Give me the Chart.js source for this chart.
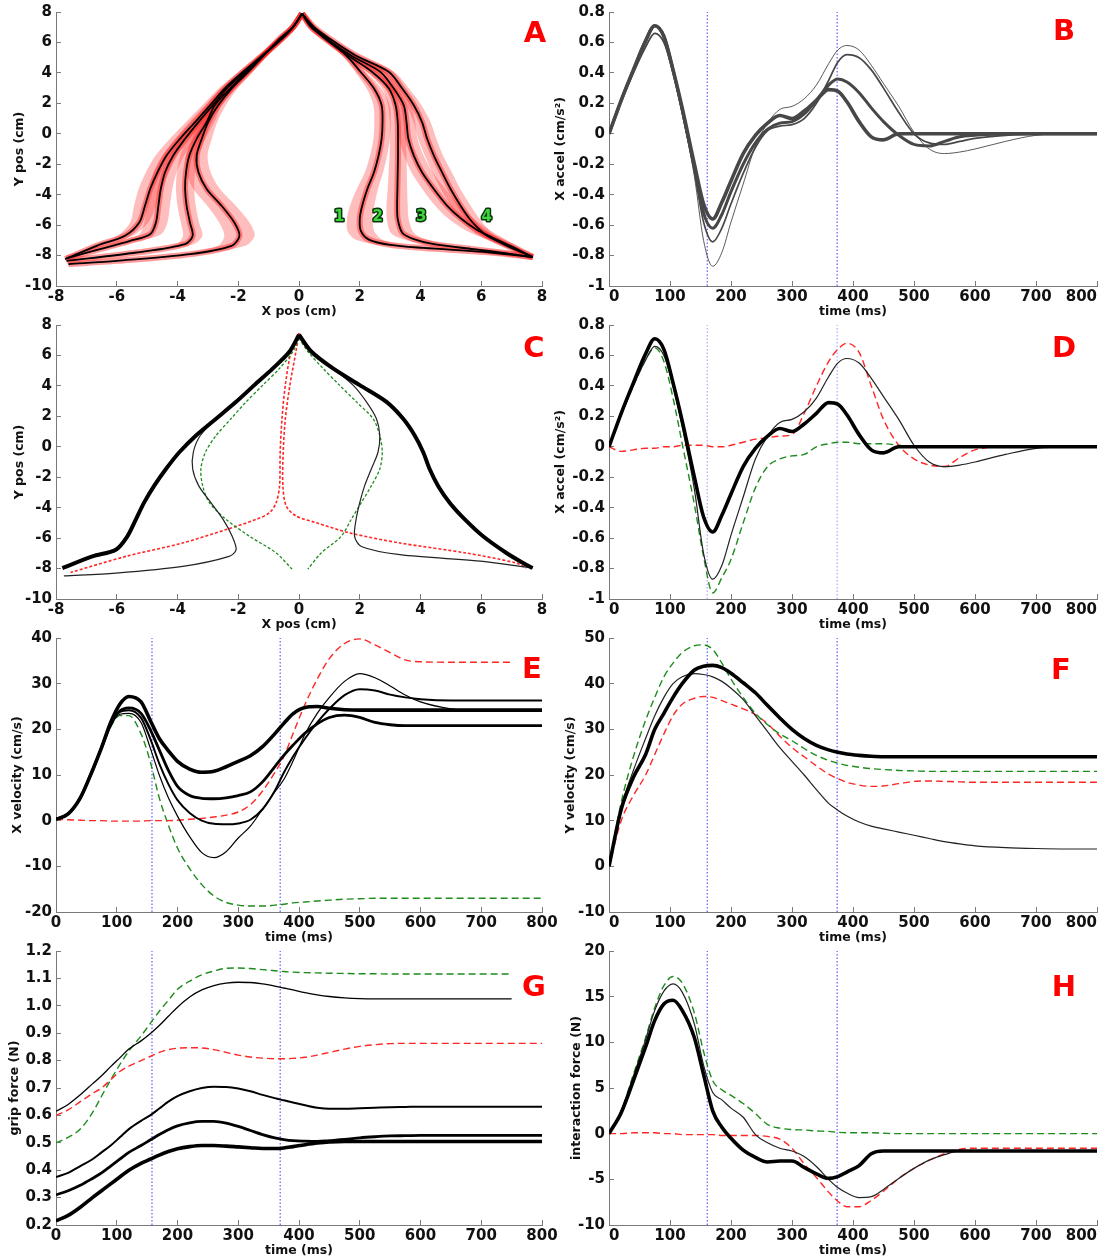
<!DOCTYPE html>
<html>
<head>
<meta charset="utf-8">
<script src="https://cdn.jsdelivr.net/npm/chart.js@4.4.1/dist/chart.umd.min.js"></script>
<style>
  html, body { margin: 0; padding: 0; background: #fff; overflow: hidden; }
  #page { position: relative; width: 1108px; height: 1257px; }
  #page canvas { position: absolute; }
  .tag {
    position: absolute;
    font: bold 29px "DejaVu Sans", sans-serif;
    color: #ff0000;
    line-height: 1;
    transform: translate(-50%, -50%);
  }
</style>
</head>
<body>
<div id="page">
  <canvas id="panelA"></canvas>
  <canvas id="panelB"></canvas>
  <canvas id="panelC"></canvas>
  <canvas id="panelD"></canvas>
  <canvas id="panelE"></canvas>
  <canvas id="panelF"></canvas>
  <canvas id="panelG"></canvas>
  <canvas id="panelH"></canvas>
  <div class="tag" style="left:535px;top:32px">A</div>
  <div class="tag" style="left:1064px;top:30px">B</div>
  <div class="tag" style="left:534px;top:347px">C</div>
  <div class="tag" style="left:1064px;top:347px">D</div>
  <div class="tag" style="left:532px;top:668px">E</div>
  <div class="tag" style="left:1061px;top:669px">F</div>
  <div class="tag" style="left:534px;top:986px">G</div>
  <div class="tag" style="left:1064px;top:986px">H</div>
</div>
<script>
// ---- data -------------------------------------------------------------

// shared time base (ms) for the time-course panels
const TIME_MS = [0, 20, 40, 60, 75, 90, 105, 120, 140, 155, 170, 185, 200, 220, 240, 260, 280, 300,
  320, 340, 360, 375, 390, 410, 430, 450, 475, 500, 525, 550, 575, 600, 650, 700, 750, 800];

// dotted event markers (ms)
const MARKERS_LEFT_MS = [158, 369];
const MARKERS_RIGHT_MS = [161, 374];

// panel A: hand paths [x, y] (cm) and horizontal spread (cm)
const pathA_right1 = [[0.1,7.9],[0.4,7.0],[0.9,6.26],[1.55,5.16],[2.03,4.06],[2.47,2.97],[2.72,1.87],[2.75,0.77],[2.72,-0.33],[2.62,-1.43],
  [2.47,-2.53],[2.25,-3.63],[2.08,-4.73],[2.0,-5.6],[2.04,-6.4],[2.3,-6.95],[3.0,-7.3],[4.1,-7.5],[6.3,-7.8],[7.7,-8.1]];
const spreadA_right1 = [0,0.03,0.08,0.13,0.18,0.24,0.27,0.27,0.27,0.28,0.3,0.35,0.4,0.42,0.44,0.44,0.4,0.3,0.15,0];
const pathA_right2 = [[0.1,7.9],[0.42,7.0],[0.85,6.26],[1.6,5.16],[2.41,4.06],[2.96,2.97],[3.18,1.87],[3.25,0.77],[3.26,-0.33],[3.26,-1.43],
  [3.25,-2.53],[3.24,-3.63],[3.23,-4.73],[3.25,-5.6],[3.4,-6.5],[3.78,-6.92],[4.44,-7.25],[5.75,-7.58],[6.85,-7.85],[7.7,-8.1]];
const spreadA_right2 = [0,0.03,0.08,0.13,0.18,0.22,0.25,0.26,0.27,0.28,0.3,0.32,0.35,0.36,0.38,0.38,0.35,0.25,0.12,0];
const pathA_right3 = [[0.1,7.9],[0.45,7.0],[0.9,6.26],[1.7,5.16],[2.68,4.06],[3.12,2.97],[3.45,1.87],[3.54,0.77],[3.6,-0.33],[3.78,-1.43],
  [4.05,-2.53],[4.44,-3.63],[4.88,-4.73],[5.35,-5.6],[5.85,-6.3],[6.25,-6.7],[6.96,-7.36],[7.7,-8.1]];
const spreadA_right3 = [0,0.03,0.08,0.13,0.18,0.22,0.25,0.28,0.3,0.32,0.35,0.38,0.4,0.42,0.4,0.35,0.2,0];
const pathA_right4 = [[0.1,7.9],[0.5,7.0],[1.0,6.26],[1.85,5.16],[2.96,4.06],[3.4,2.97],[3.78,1.87],[4.05,0.77],[4.22,-0.33],[4.44,-1.43],
  [4.71,-2.53],[4.99,-3.63],[5.32,-4.73],[5.62,-5.6],[5.95,-6.3],[6.19,-6.7],[6.85,-7.36],[7.7,-8.1]];
const spreadA_right4 = [0,0.03,0.08,0.13,0.18,0.22,0.25,0.28,0.3,0.3,0.32,0.32,0.33,0.33,0.3,0.28,0.2,0];

const pathA_left1 = [[0.1,7.9],[-0.2,7.0],[-0.63,6.26],[-1.67,4.06],[-2.22,2.97],[-2.66,1.87],[-2.99,0.77],[-3.2,-0.33],[-3.37,-1.43],[-3.31,-2.53],
  [-3.04,-3.63],[-2.55,-4.73],[-2.13,-5.83],[-1.96,-6.7],[-2.22,-7.36],[-3.59,-7.91],[-6.0,-8.35],[-7.59,-8.57]];
const spreadA_left1 = [0,0.03,0.08,0.15,0.2,0.25,0.3,0.33,0.36,0.4,0.44,0.47,0.5,0.5,0.45,0.3,0.1,0];
const pathA_left2 = [[0.1,7.9],[-0.2,7.0],[-0.59,6.26],[-1.72,4.06],[-2.27,2.97],[-2.77,1.87],[-3.04,0.77],[-3.37,-0.33],[-3.61,-1.43],[-3.72,-2.53],
  [-3.75,-3.63],[-3.7,-4.73],[-3.59,-5.83],[-3.5,-6.7],[-3.75,-7.25],[-5.34,-7.8],[-7.65,-8.35]];
const spreadA_left2 = [0,0.03,0.08,0.15,0.2,0.23,0.26,0.28,0.3,0.3,0.3,0.3,0.3,0.32,0.28,0.12,0];
const pathA_left3 = [[0.1,7.9],[-0.2,7.0],[-0.57,6.26],[-1.78,4.06],[-2.38,2.97],[-2.84,1.87],[-3.31,0.77],[-3.75,-0.33],[-4.14,-1.43],[-4.41,-2.53],
  [-4.55,-3.63],[-4.63,-4.73],[-4.71,-5.83],[-4.9,-6.6],[-5.56,-7.03],[-6.55,-7.58],[-7.65,-8.18]];
const spreadA_left3 = [0,0.03,0.08,0.15,0.2,0.25,0.3,0.33,0.36,0.38,0.38,0.38,0.38,0.36,0.3,0.15,0];
const pathA_left4 = [[0.1,7.9],[-0.2,7.0],[-0.55,6.26],[-1.85,4.06],[-2.45,2.97],[-2.93,1.87],[-3.42,0.77],[-3.92,-0.33],[-4.36,-1.43],[-4.66,-2.53],
  [-4.9,-3.63],[-5.07,-4.73],[-5.26,-5.83],[-5.73,-6.7],[-6.66,-7.36],[-7.7,-8.24]];
const spreadA_left4 = [0,0.03,0.08,0.15,0.2,0.25,0.3,0.33,0.36,0.38,0.38,0.36,0.3,0.25,0.15,0];

const trialNumbers = ['1', '2', '3', '4'];
const trialNumberX = [1.32, 2.59, 4.02, 6.18];
const trialNumberY = -5.5;

// panel C: mean paths [x, y] (cm)
const pathC_thickLeft = [[0,7.36],[-0.31,6.26],[-0.86,5.15],[-1.47,4.05],[-2.07,2.95],[-2.73,1.84],[-3.39,0.74],[-3.94,-0.36],
  [-4.38,-1.46],[-4.77,-2.57],[-5.1,-3.67],[-5.37,-4.77],[-5.65,-5.88],[-6.03,-6.76],[-6.8,-7.2],[-7.79,-7.97]];
const pathC_thickRight = [[0,7.36],[0.4,6.26],[1.12,5.15],[2.0,4.05],[2.88,2.95],[3.43,1.84],[3.81,0.74],[4.09,-0.36],
  [4.3,-1.46],[4.58,-2.57],[4.96,-3.67],[5.46,-4.77],[6.06,-5.88],[6.83,-6.98],[7.38,-7.64],[7.69,-7.97]];
const pathC_thinLeft = [[0,7.36],[-0.31,6.26],[-0.86,5.15],[-1.47,4.05],[-2.07,2.95],[-2.73,1.84],[-3.25,0.74],[-3.48,-0.36],
  [-3.5,-1.46],[-3.3,-2.57],[-2.9,-3.67],[-2.5,-4.77],[-2.2,-5.88],[-2.07,-6.76],[-2.3,-7.2],[-3.83,-7.86],[-6.03,-8.3],[-7.74,-8.48]];
const pathC_thinRight = [[0,7.36],[0.46,6.26],[1.12,5.15],[1.78,4.05],[2.22,2.95],[2.55,1.84],[2.66,0.74],[2.6,-0.36],
  [2.38,-1.46],[2.16,-2.57],[2.0,-3.67],[1.88,-4.77],[1.83,-5.88],[2.05,-6.55],[3.32,-7.09],[6.06,-7.53],[7.69,-7.97]];
const pathC_greenLeft = [[0,7.14],[-0.2,6.26],[-0.64,5.15],[-1.19,4.05],[-1.74,2.95],[-2.24,1.84],[-2.73,0.74],[-3.08,-0.36],
  [-3.23,-1.46],[-3.17,-2.57],[-2.95,-3.67],[-2.4,-4.77],[-1.63,-5.88],[-0.75,-6.98],[-0.23,-8.04]];
const pathC_greenRight = [[0,7.14],[0.29,6.26],[0.79,5.15],[1.33,4.05],[1.89,2.95],[2.44,1.84],[2.66,0.74],[2.74,-0.36],
  [2.66,-1.46],[2.38,-2.57],[2.05,-3.67],[1.72,-4.77],[1.39,-5.88],[0.73,-6.98],[0.29,-8.04]];
const pathC_redLeft = [[0,7.47],[-0.26,6.26],[-0.45,4.05],[-0.56,1.84],[-0.62,-0.36],[-0.64,-2.57],[-0.75,-3.67],[-0.97,-4.33],
  [-1.41,-4.77],[-2.4,-5.44],[-3.83,-6.32],[-5.7,-7.2],[-7.52,-8.26]];
const pathC_redRight = [[0,7.47],[-0.1,6.26],[-0.3,4.05],[-0.45,1.84],[-0.52,-0.36],[-0.53,-2.57],[-0.42,-3.9],[-0.09,-4.55],
  [0.57,-4.99],[1.67,-5.66],[3.32,-6.32],[5.51,-6.98],[7.16,-7.64],[7.49,-7.97]];

// panels B / D: X accel (cm/s^2)
const accelB_1 = [0,0.22,0.42,0.61,0.71,0.64,0.42,0.17,-0.2,-0.46,-0.56,-0.45,-0.31,-0.13,-0.01,0.07,0.12,0.1,
  0.15,0.22,0.29,0.28,0.21,0.08,-0.02,-0.04,0,0,0,0,0,0,0,0,0,0];
const accelB_2 = [0,0.22,0.42,0.61,0.71,0.64,0.42,0.16,-0.22,-0.52,-0.62,-0.53,-0.38,-0.2,-0.06,0.03,0.07,0.08,
  0.13,0.22,0.32,0.36,0.34,0.27,0.17,0.08,-0.01,-0.07,-0.08,-0.05,-0.02,-0.01,0,0,0,0];
const accelB_3 = [0,0.21,0.4,0.57,0.66,0.6,0.4,0.14,-0.25,-0.58,-0.71,-0.62,-0.46,-0.26,-0.09,0.02,0.05,0.06,
  0.1,0.2,0.35,0.47,0.52,0.5,0.42,0.3,0.14,0,-0.06,-0.07,-0.05,-0.03,-0.01,0,0,0];
const accelB_4 = [0,0.21,0.4,0.57,0.66,0.6,0.4,0.13,-0.28,-0.7,-0.87,-0.78,-0.58,-0.33,-0.08,0.07,0.16,0.18,
  0.23,0.32,0.46,0.55,0.58,0.55,0.45,0.33,0.18,0.01,-0.1,-0.13,-0.12,-0.1,-0.05,-0.01,0,0];
const accelD_green = [0,0.21,0.4,0.57,0.65,0.56,0.32,0.02,-0.38,-0.72,-0.96,-0.86,-0.74,-0.5,-0.27,-0.13,-0.08,-0.06,
  -0.05,0,0.02,0.03,0.03,0.02,0.02,0.02,0.01,0,0,0,0,0,0,0,0,0];
const accelD_red = [0,-0.03,-0.02,-0.01,-0.01,0,0,0.01,0.01,0.01,0,0,0.01,0.03,0.05,0.06,0.07,0.08,
  0.22,0.4,0.56,0.64,0.68,0.62,0.4,0.18,0.01,-0.08,-0.12,-0.13,-0.07,-0.02,0,0,0,0];

// panel E: X velocity (cm/s)
const velX_1 = [0.3,1.5,5,11,16,21.5,25.5,27.2,26,22,18,15.3,13,11.3,10.6,10.8,11.8,13,
  14.2,16.2,19,21.3,23.4,24.8,25,24.6,24.3,24.2,24.2,24.2,24.2,24.2,24.2,24.2,24.2,24.2];
const velX_2 = [0.3,1.5,5,11,16,21,24,24.7,23.5,20,15.5,11,7.5,5.5,4.9,4.8,5,5.5,
  6.3,8.5,11.8,14.3,16.5,19.2,21.2,22.6,23.1,22.6,21.5,21,20.8,20.8,20.8,20.8,20.8,20.8];
const velX_3 = [0.3,1.5,5,11,16,21,23.8,24.2,22.5,18,12.5,8,4.5,1.7,0,-0.7,-0.8,-0.6,
  0.2,2.5,6.5,10.5,14,18,21.5,24.5,27.5,28.8,28.5,27.6,27,26.6,26.3,26.3,26.3,26.3];
const velX_4 = [0.3,1.5,5,11,16,20.8,23.3,23.5,21.5,16,10,5,1,-3.5,-7,-8.1,-6.8,-3.8,
  -1.2,2.5,6.3,9,13,19,23.5,27,30.5,32.2,31.3,29.5,27.5,26,24.5,24.1,24.1,24.1];
const velX_green = [0.3,1.5,5,11,16,20.5,23,23,19,13,5,-1,-6,-10.5,-14,-16.5,-17.9,-18.5,
  -18.7,-18.7,-18.5,-18.3,-18,-17.8,-17.6,-17.4,-17.2,-17.1,-17,-17,-17,-17,-17,-17,-17,-17];
const velX_red = [0.3,0.2,0.1,0,0,-0.1,-0.1,-0.1,-0.1,0,0,0,0.1,0.3,0.5,0.8,1.2,1.9,
  3.5,6.5,10.5,14,19,25.5,31,35.5,38.8,39.8,38.5,36.8,35.2,34.8,34.7,34.7,34.7,null];

// panel F: Y velocity (cm/s)
const velY_thick = [0,12.5,19.5,24.5,30,33.5,37,40,43,43.8,44,43.5,42.3,40.2,38,35.2,32.5,30,
  28,26.5,25.5,25,24.6,24.3,24.1,24,24,24,24,24,24,24,24,24,24,24];
const velY_thin = [0,13,21,28,33,37,40,41.5,42.2,42,41.5,40.5,39,36.5,33,29.5,26,23,
  20,16.8,13.8,12.3,11,9.7,8.8,8.2,7.5,6.8,6.1,5.4,4.9,4.5,4.1,3.9,3.8,3.8];
const velY_green = [0,14,24,32,37,41.5,44.5,46.8,48.3,48.5,47.5,44.5,41,37,33.5,31,29,27.5,
  25.8,24.3,23.2,22.6,22.1,21.7,21.4,21.2,21,20.9,20.8,20.8,20.8,20.8,20.8,20.8,20.8,20.8];
const velY_red = [0,10,15.5,20,24.5,29,33,35.5,36.8,37.2,37,36.3,35.5,34.5,33.2,31.2,28.5,26,
  24,22,20.2,19.2,18.4,17.8,17.5,17.6,18.1,18.6,18.7,18.6,18.5,18.4,18.4,18.4,18.4,18.4];

// panel G: grip force (N)
const grip_green = [0.5,0.52,0.55,0.61,0.67,0.73,0.785,0.835,0.89,0.935,0.98,1.02,1.06,1.09,1.113,1.127,1.137,1.138,
  1.136,1.132,1.128,1.125,1.123,1.121,1.12,1.119,1.118,1.117,1.117,1.116,1.116,1.116,1.116,1.116,1.116,null];
const grip_thin = [0.615,0.64,0.675,0.715,0.745,0.778,0.81,0.842,0.872,0.898,0.928,0.962,0.995,1.032,1.058,1.074,1.083,1.086,
  1.085,1.08,1.072,1.065,1.058,1.048,1.04,1.034,1.029,1.026,1.025,1.025,1.025,1.025,1.025,1.025,1.025,null];
const grip_red = [0.6,0.62,0.65,0.68,0.7,0.73,0.76,0.78,0.8,0.815,0.83,0.84,0.845,0.847,0.846,0.84,0.83,0.82,
  0.813,0.809,0.807,0.807,0.808,0.812,0.82,0.83,0.842,0.852,0.858,0.862,0.863,0.863,0.863,0.863,0.863,0.863];
const grip_4 = [0.375,0.39,0.415,0.44,0.465,0.49,0.52,0.55,0.58,0.6,0.625,0.65,0.67,0.688,0.7,0.705,0.704,0.698,
  0.688,0.675,0.663,0.655,0.647,0.637,0.628,0.624,0.624,0.626,0.628,0.63,0.631,0.632,0.632,0.632,0.632,0.632];
const grip_5 = [0.31,0.325,0.345,0.37,0.39,0.415,0.44,0.465,0.49,0.51,0.53,0.548,0.562,0.573,0.578,0.578,0.572,0.56,
  0.545,0.53,0.518,0.512,0.508,0.506,0.505,0.508,0.512,0.518,0.522,0.525,0.526,0.527,0.527,0.527,0.527,0.527];
const grip_6 = [0.215,0.235,0.265,0.3,0.325,0.35,0.375,0.4,0.425,0.44,0.455,0.468,0.478,0.486,0.49,0.49,0.488,0.485,
  0.482,0.479,0.479,0.481,0.486,0.493,0.499,0.503,0.505,0.505,0.505,0.505,0.505,0.505,0.505,0.505,0.505,0.505];

// panel H: interaction force (N)
const force_green = [0,2.5,6.5,10.5,13.8,16.2,17.2,16.5,13.2,9,5.8,4.8,4.2,3.3,2.2,1,0.6,0.45,
  0.4,0.3,0.25,0.15,0.1,0.1,0.1,0.05,0,0,0,0,0,0,0,0,0,0];
const force_thin = [0,2.5,6.3,10.3,13.5,15.6,16.4,15.5,12,7.5,4.5,3.7,2.8,1.8,-0.1,-1,-1.6,-1.9,
  -2.5,-3.6,-5,-5.9,-6.5,-7,-6.9,-6.1,-4.9,-3.8,-2.9,-2.3,-1.9,-1.9,-1.9,-1.9,-1.9,-1.9];
const force_thick = [0,2.3,5.8,9.5,12.4,14.2,14.6,13.5,10.5,6.5,2.5,0.7,-0.5,-1.8,-2.6,-3.1,-3,-3,
  -3.7,-4.4,-4.9,-4.7,-4.2,-3.5,-2.2,-1.9,-1.9,-1.9,-1.9,-1.9,-1.9,-1.9,-1.9,-1.9,-1.9,-1.9];
const force_red = [0,0,0.1,0.1,0.1,0,0,-0.1,-0.1,-0.1,-0.1,-0.2,-0.2,-0.2,-0.2,-0.3,-0.6,-1.6,
  -3.3,-4.8,-6.4,-7.4,-8,-8,-7.3,-6.3,-4.9,-3.8,-2.9,-2.2,-1.7,-1.6,-1.6,-1.6,-1.6,-1.6];

// ---- layout / style ---------------------------------------------------

const COLUMNS = {
  left:  { left: 0,   width: 562, axisWidth: 56, padRight: 20 },
  right: { left: 550, width: 558, axisWidth: 59, padRight: 11 }
};
const ROW_PLOT_TOPS = [12, 325, 638, 951];
const PLOT_HEIGHT = 274;
const PAD_TOP = 10;
const X_AXIS_HEIGHT = 33;

const TICK_FONT = { family: "'DejaVu Sans', sans-serif", size: 15, weight: 'bold' };
const TITLE_FONT = { family: "'DejaVu Sans', sans-serif", size: 12.5, weight: 'bold' };
const AXIS_GRAY = '#7a7a7a';

const INK = '#000000';
const GRAY = '#474747';
const GREEN = '#1d8c1d';
const RED = '#ff2626';
const BLUE = '#3b3bff';
const DASH = [7, 4];
const SHORT_DASH = [3, 2];

Chart.defaults.font.family = "'DejaVu Sans', sans-serif";

// ---- helpers ----------------------------------------------------------

function timeCurve(values, color, width, dash) {
  return {
    data: values.map((v, i) => ({ x: TIME_MS[i], y: v })),
    borderColor: color,
    borderWidth: width,
    borderDash: dash || [],
    pointRadius: 0,
    fill: false,
    cubicInterpolationMode: 'monotone'
  };
}

function pathCurve(pairs, color, width, dash) {
  return {
    data: pairs.map(([x, y]) => ({ x, y })),
    borderColor: color,
    borderWidth: width,
    borderDash: dash || [],
    pointRadius: 0,
    fill: false,
    tension: 0.3
  };
}

// closed outline: path shifted left, then back along the path shifted right
function spreadBand(pairs, halfWidths) {
  const left = pairs.map(([x, y], i) => ({ x: x - halfWidths[i], y }));
  const right = pairs.map(([x, y], i) => ({ x: x + halfWidths[i], y })).reverse();
  return {
    data: left.concat(right),
    borderColor: 'rgba(0,0,0,0)',
    borderWidth: 0,
    backgroundColor: 'rgba(255,40,40,0.3)',
    pointRadius: 0,
    fill: 'shape',
    tension: 0.3
  };
}

function markerLines(times, yMin, yMax, color) {
  return times.map(t => ({
    data: [{ x: t, y: yMin }, { x: t, y: yMax }],
    borderColor: color || BLUE,
    borderWidth: 1,
    borderDash: [1.5, 2],
    pointRadius: 0,
    fill: false,
    tension: 0
  }));
}

// green trial numbers written at data positions
const dataNotesPlugin = {
  id: 'dataNotes',
  afterDatasetsDraw(chart, args, opts) {
    const notes = opts.notes || [];
    if (!notes.length) return;
    const { ctx, scales } = chart;
    ctx.save();
    ctx.font = "bold 15px 'DejaVu Sans', sans-serif";
    ctx.textAlign = 'center';
    ctx.textBaseline = 'middle';
    ctx.lineJoin = 'round';
    ctx.lineWidth = 3;
    ctx.strokeStyle = '#0d300d';
    ctx.fillStyle = '#3ad63a';
    notes.forEach(n => {
      const px = scales.x.getPixelForValue(n.x);
      const py = scales.y.getPixelForValue(n.y);
      ctx.strokeText(n.text, px, py);
      ctx.fillText(n.text, px, py);
    });
    ctx.restore();
  }
};

function buildPanel(p) {
  const col = COLUMNS[p.col];
  const canvas = document.getElementById(p.id);
  canvas.width = col.width;
  canvas.height = PAD_TOP + PLOT_HEIGHT + X_AXIS_HEIGHT;
  canvas.style.left = col.left + 'px';
  canvas.style.top = (ROW_PLOT_TOPS[p.row] - PAD_TOP) + 'px';

  return new Chart(canvas, {
    type: 'line',
    data: { datasets: p.datasets },
    options: {
      responsive: false,
      animation: false,
      devicePixelRatio: 1,
      layout: { padding: { top: PAD_TOP, right: col.padRight, left: 0, bottom: 0 } },
      plugins: {
        legend: { display: false },
        tooltip: { enabled: false },
        dataNotes: { notes: p.notes || [] }
      },
      scales: {
        x: {
          type: 'linear',
          min: p.x.min, max: p.x.max,
          ticks: {
            stepSize: p.x.step, font: TICK_FONT, color: '#111', padding: 7,
            maxRotation: 0, autoSkip: false, align: p.x.align || 'center'
          },
          grid: { drawOnChartArea: false, tickLength: -5, color: AXIS_GRAY },
          border: { color: AXIS_GRAY, width: 1 },
          title: { display: true, text: p.x.title, font: TITLE_FONT, color: '#111', padding: 0 },
          afterFit(scale) {
            scale.height = X_AXIS_HEIGHT;
            scale.paddingLeft = 0;
            scale.paddingRight = 0;
          }
        },
        y: {
          type: 'linear',
          min: p.y.min, max: p.y.max,
          ticks: {
            stepSize: p.y.step, font: TICK_FONT, color: '#111', padding: 9,
            autoSkip: false, callback: p.y.format
          },
          grid: { drawOnChartArea: false, tickLength: -5, color: AXIS_GRAY },
          border: { color: AXIS_GRAY, width: 1 },
          title: {
            display: true, text: p.y.title, font: TITLE_FONT, color: '#111',
            padding: { top: p.y.titleOffset, bottom: 0 }
          },
          afterFit(scale) {
            scale.width = col.axisWidth;
            scale.paddingTop = 0;
            scale.paddingBottom = 0;
          }
        }
      }
    },
    plugins: [dataNotesPlugin]
  });
}

const plainNumber = v => String(Math.round(v * 100) / 100);
const oneDecimal = v => v.toFixed(1);
const TIME_AXIS_LEFT = { min: 0, max: 800, step: 100, title: 'time (ms)' };
const TIME_AXIS_RIGHT = { min: 0, max: 800, step: 100, title: 'time (ms)', align: 'inner' };
const POS_AXIS = { min: -8, max: 8, step: 2, title: 'X pos (cm)' };

// ---- panels -------------------------------------------------------------

const pathsA = [pathA_left1, pathA_left2, pathA_left3, pathA_left4, pathA_right1, pathA_right2, pathA_right3, pathA_right4];
const spreadsA = [spreadA_left1, spreadA_left2, spreadA_left3, spreadA_left4, spreadA_right1, spreadA_right2, spreadA_right3, spreadA_right4];

buildPanel({
  id: 'panelA', col: 'left', row: 0,
  x: POS_AXIS,
  y: { min: -10, max: 8, step: 2, title: 'Y pos (cm)', titleOffset: 12.5, format: plainNumber },
  datasets: [
    ...pathsA.map(p => pathCurve(p, INK, 1.8)),
    ...pathsA.map(p => pathCurve(p, 'rgba(255,30,30,0.45)', 6)),
    ...pathsA.map((p, i) => spreadBand(p, spreadsA[i]))
  ],
  notes: trialNumbers.map((text, i) => ({ text, x: trialNumberX[i], y: trialNumberY }))
});

buildPanel({
  id: 'panelB', col: 'right', row: 0,
  x: TIME_AXIS_RIGHT,
  y: { min: -1, max: 0.8, step: 0.2, title: 'X accel (cm/s\u00b2)', titleOffset: 3.5, format: plainNumber },
  datasets: [
    timeCurve(accelB_1, GRAY, 3.6),
    timeCurve(accelB_2, GRAY, 3),
    timeCurve(accelB_3, GRAY, 1.7),
    timeCurve(accelB_4, GRAY, 0.9),
    ...markerLines(MARKERS_RIGHT_MS, -1, 0.8)
  ]
});

buildPanel({
  id: 'panelC', col: 'left', row: 1,
  x: POS_AXIS,
  y: { min: -10, max: 8, step: 2, title: 'Y pos (cm)', titleOffset: 12.5, format: plainNumber },
  datasets: [
    pathCurve(pathC_thickLeft, INK, 4),
    pathCurve(pathC_thickRight, INK, 4),
    pathCurve(pathC_thinLeft, '#222', 1.2),
    pathCurve(pathC_thinRight, '#222', 1.2),
    pathCurve(pathC_greenLeft, GREEN, 1.3, SHORT_DASH),
    pathCurve(pathC_greenRight, GREEN, 1.3, SHORT_DASH),
    pathCurve(pathC_redLeft, RED, 1.6, SHORT_DASH),
    pathCurve(pathC_redRight, RED, 1.6, SHORT_DASH)
  ]
});

buildPanel({
  id: 'panelD', col: 'right', row: 1,
  x: TIME_AXIS_RIGHT,
  y: { min: -1, max: 0.8, step: 0.2, title: 'X accel (cm/s\u00b2)', titleOffset: 3.5, format: plainNumber },
  datasets: [
    timeCurve(accelB_1, INK, 3.6),
    timeCurve(accelB_4, '#222', 1.2),
    timeCurve(accelD_red, RED, 1.4, DASH),
    timeCurve(accelD_green, GREEN, 1.4, DASH),
    ...markerLines(MARKERS_RIGHT_MS, -1, 0.8, '#9a9aff')
  ]
});

buildPanel({
  id: 'panelE', col: 'left', row: 2,
  x: TIME_AXIS_LEFT,
  y: { min: -20, max: 40, step: 10, title: 'X velocity (cm/s)', titleOffset: 10.5, format: plainNumber },
  datasets: [
    timeCurve(velX_1, INK, 3.6),
    timeCurve(velX_2, INK, 2.8),
    timeCurve(velX_3, INK, 2),
    timeCurve(velX_4, INK, 1.2),
    timeCurve(velX_red, RED, 1.4, DASH),
    timeCurve(velX_green, GREEN, 1.4, DASH),
    ...markerLines(MARKERS_LEFT_MS, -20, 40)
  ]
});

buildPanel({
  id: 'panelF', col: 'right', row: 2,
  x: TIME_AXIS_RIGHT,
  y: { min: -10, max: 50, step: 10, title: 'Y velocity (cm/s)', titleOffset: 13.5, format: plainNumber },
  datasets: [
    timeCurve(velY_thick, INK, 3.6),
    timeCurve(velY_thin, '#222', 1.2),
    timeCurve(velY_green, GREEN, 1.4, DASH),
    timeCurve(velY_red, RED, 1.4, DASH),
    ...markerLines(MARKERS_RIGHT_MS, -10, 50)
  ]
});

buildPanel({
  id: 'panelG', col: 'left', row: 3,
  x: TIME_AXIS_LEFT,
  y: { min: 0.2, max: 1.2, step: 0.1, title: 'grip force (N)', titleOffset: 7.5, format: oneDecimal },
  datasets: [
    timeCurve(grip_6, INK, 3.6),
    timeCurve(grip_5, INK, 2.8),
    timeCurve(grip_4, INK, 2),
    timeCurve(grip_thin, INK, 1.3),
    timeCurve(grip_red, RED, 1.4, DASH),
    timeCurve(grip_green, GREEN, 1.4, DASH),
    ...markerLines(MARKERS_LEFT_MS, 0.2, 1.2)
  ]
});

buildPanel({
  id: 'panelH', col: 'right', row: 3,
  x: TIME_AXIS_RIGHT,
  y: { min: -10, max: 20, step: 5, title: 'interaction force (N)', titleOffset: 19.5, format: plainNumber },
  datasets: [
    timeCurve(force_thick, INK, 3.6),
    timeCurve(force_thin, '#222', 1.2),
    timeCurve(force_red, RED, 1.4, DASH),
    timeCurve(force_green, GREEN, 1.4, DASH),
    ...markerLines(MARKERS_RIGHT_MS, -10, 20)
  ]
});
</script>
</body>
</html>
